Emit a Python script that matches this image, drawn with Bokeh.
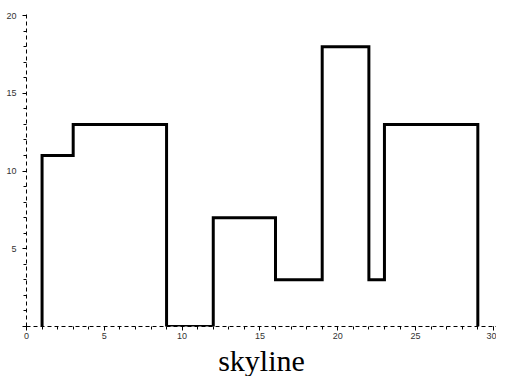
from bokeh.plotting import figure
from bokeh.models import Range1d, SingleIntervalTicker
from bokeh.embed import file_html
from bokeh.resources import INLINE

# skyline outline: x positions of edges and the height that starts there
edge_x = [1, 1, 3, 9, 12, 16, 19, 22, 23, 29]
height_y = [0, 11, 13, 0, 7, 3, 18, 3, 13, 0]
title_text = "skyline"

p = figure(width=496, height=376, output_backend="svg", toolbar_location=None,
           x_range=Range1d(0, 30.2), y_range=Range1d(0, 20.2),
           min_border_left=26, min_border_right=0, min_border_top=12,
           min_border_bottom=49, title=title_text, title_location="below")

p.step(edge_x, height_y, mode="after", line_color="black", line_width=3,
       line_join="miter")

p.grid.visible = False
p.outline_line_color = None
p.background_fill_color = "white"

p.title.align = "center"
p.title.text_font = "Liberation Serif"
p.title.text_font_style = "normal"
p.title.text_font_size = "30px"
p.title.text_color = "black"
p.title.standoff = 0

for ax in (p.xaxis[0], p.yaxis[0]):
    ax.ticker = SingleIntervalTicker(interval=5, num_minor_ticks=5)
    ax.axis_line_dash = "4 3"
    ax.axis_line_color = "black"
    ax.axis_line_width = 1
    ax.major_tick_in = 0
    ax.major_tick_out = 4
    ax.minor_tick_in = 0
    ax.minor_tick_out = 3
    ax.major_tick_line_color = "black"
    ax.minor_tick_line_color = "black"
    ax.major_label_text_font = "Liberation Sans"
    ax.major_label_text_font_size = "9px"
    ax.major_label_text_color = "#333333"

p.xaxis[0].major_label_standoff = 2
p.yaxis[0].major_label_standoff = 6
p.yaxis[0].major_label_overrides = {0: ""}

out = file_html(p, INLINE)
open("out.html", "w").write(out)
